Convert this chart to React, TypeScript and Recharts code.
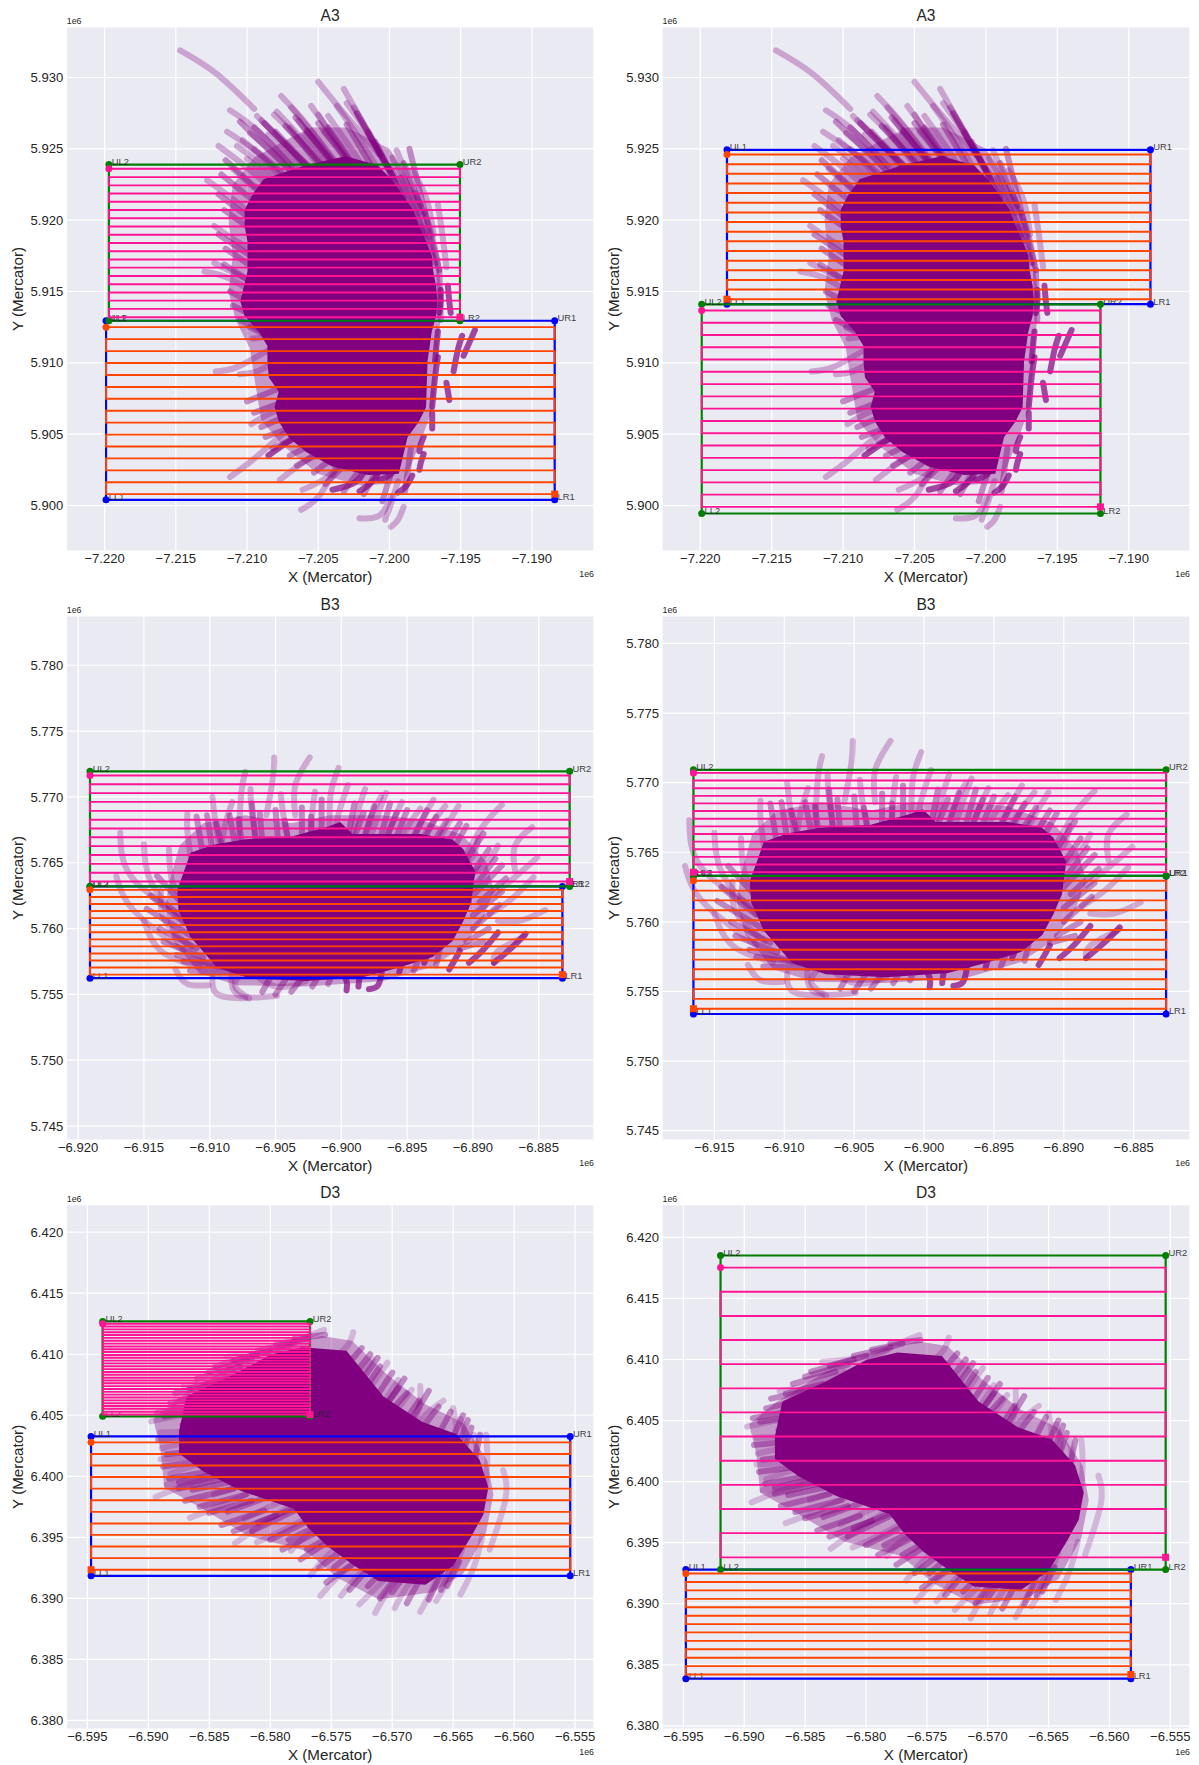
import React from 'react';
import { ScatterChart, Scatter, XAxis, YAxis, CartesianGrid } from 'recharts';

type Track = number[];
const FONT = '"Liberation Sans", Arial, sans-serif';
const PURPLE = '#800080';
const INK = '#262626';

const a3Ticks = { x: [-7220, -7215, -7210, -7205, -7200, -7195, -7190], y: [5900, 5905, 5910, 5915, 5920, 5925, 5930] };
const b3LeftXTicks = [-6920, -6915, -6910, -6905, -6900, -6895, -6890, -6885];
const b3RightXTicks = [-6915, -6910, -6905, -6900, -6895, -6890, -6885];
const b3YTicks = [5745, 5750, 5755, 5760, 5765, 5770, 5775, 5780];
const d3XTicks = [-6595, -6590, -6585, -6580, -6575, -6570, -6565, -6560, -6555];
const d3YTicks = [6380, 6385, 6390, 6395, 6400, 6405, 6410, 6415, 6420];

const a3Blob: Track = [-7205.8,5923.8,-7208.8,5922.8,-7209.6,5921.7,-7210.1,5920.7,-7210.1,5919.6,-7209.9,5918.5,-7209.9,5916.4,-7210.4,5914.3,-7210.1,5913.3,-7209.1,5912.2,-7208.5,5911.2,-7208.5,5910.1,-7208.4,5909.0,-7207.7,5908.0,-7208.0,5906.9,-7207.7,5905.9,-7207.0,5904.8,-7205.8,5903.8,-7204.0,5902.8,-7201.5,5902.2,-7199.4,5902.3,-7198.8,5904.8,-7198.0,5905.9,-7197.5,5906.9,-7197.4,5910.1,-7197.1,5912.2,-7196.8,5913.3,-7196.7,5914.3,-7196.8,5915.4,-7197.0,5916.4,-7197.1,5917.5,-7197.5,5918.5,-7198.0,5919.6,-7198.4,5920.7,-7199.1,5921.7,-7199.9,5922.8,-7200.9,5923.8,-7203.1,5924.4,-7205.8,5923.8];
const a3Halo: Track = [-7207.5,5925.5,-7209.5,5924.4,-7211,5922.5,-7211.3,5920,-7211,5917.5,-7211.3,5915,-7210.8,5913,-7209.8,5911,-7209.5,5909,-7209,5906,-7207.5,5904.2,-7205,5902.2,-7202,5901.4,-7199,5901.6,-7197.8,5904.5,-7196.9,5907,-7196.6,5911,-7196.3,5914.5,-7196.6,5917,-7197.2,5920,-7198.5,5922.5,-7200,5925,-7203,5926.5,-7205.5,5926.5,-7207.5,5925.5];
const a3Light: Track[] = [
  [-7214.7,5931.9,-7212.2,5930.3,-7209.5,5927.8],[-7205.0,5929.7,-7203.2,5927.5,-7200.7,5924.6],[-7203.2,5929.2,-7201.8,5926.7,-7200.7,5924.6],
  [-7207.6,5928.7,-7205.8,5926.7,-7203.7,5923.8],[-7211.2,5927.7,-7209.3,5926.3,-7206.9,5923.8],[-7211.4,5926.2,-7209.1,5924.6,-7206.4,5922.2],
  [-7212.0,5925.2,-7209.9,5923.6,-7207.7,5921.7],[-7209.3,5927.3,-7206.9,5924.9,-7204.2,5922.5],[-7208.1,5927.4,-7206.1,5925.4,-7204.0,5923.0],
  [-7206.4,5927.0,-7204.8,5924.9,-7202.6,5922.5],[-7205.0,5927.4,-7203.4,5924.9,-7201.5,5922.5],[-7203.7,5928.0,-7202.1,5925.7,-7200.5,5923.0],
  [-7209.8,5926.1,-7207.7,5924.3,-7205.8,5921.9],[-7210.7,5925.2,-7208.5,5923.5,-7206.6,5921.6],[-7199.5,5924.9,-7198.4,5922.2,-7197.2,5918.8],
  [-7200.1,5923.8,-7198.8,5921.7,-7197.4,5918.5],[-7196.6,5921.1,-7196.3,5919.1,-7196.0,5916.7],[-7198.2,5921.9,-7197.2,5919.6,-7196.6,5916.9],
  [-7212.2,5909.4,-7210.7,5909.7,-7208.5,5910.9],[-7211.2,5902.0,-7209.6,5903.2,-7207.4,5905.1],[-7209.7,5905.7,-7208.5,5906.4,-7207.2,5906.9],
  [-7209.6,5911.7,-7208.8,5911.8,-7208.0,5912.0],[-7210.5,5909.2,-7209.3,5909.4,-7208.0,5910.1],[-7213.0,5916.4,-7211.2,5915.9,-7209.1,5914.6],
  [-7212.3,5917.0,-7210.1,5915.9,-7208.0,5914.9],[-7212.8,5922.8,-7210.9,5921.4,-7209.1,5919.9],[-7212.3,5919.6,-7210.7,5918.5,-7208.5,5917.2],
  [-7206.2,5899.7,-7205.0,5900.6,-7203.7,5902.7],[-7206.1,5901.1,-7204.5,5901.9,-7203.1,5903.2],[-7207.7,5901.8,-7206.1,5903.0,-7204.5,5904.0],
  [-7202.1,5899.1,-7200.7,5899.3,-7199.9,5900.6],[-7199.9,5898.5,-7199.4,5899.0,-7199.0,5899.9],[-7200.3,5899.0,-7199.9,5900.1,-7199.4,5901.7],
  [-7209.0,5927.0,-7207.0,5925.0,-7204.5,5922.0],[-7207.9,5927.6,-7205.8,5925.3,-7203.3,5922.3],[-7206.9,5927.9,-7204.9,5925.5,-7202.6,5922.6],
  [-7205.5,5928.0,-7203.9,5925.8,-7201.9,5922.9],[-7204.3,5927.3,-7202.9,5925.3,-7201.0,5922.5],[-7203.0,5928.2,-7201.4,5925.9,-7199.6,5922.8],
  [-7202.5,5927.9,-7200.8,5925.0,-7199.0,5921.6],[-7208.5,5926.0,-7206.6,5924.2,-7204.5,5921.8],[-7207.0,5926.5,-7205.4,5924.4,-7203.4,5921.9],
  [-7210.3,5925.6,-7208.5,5924.0,-7206.2,5921.5],[-7209.5,5925.0,-7207.4,5923.2,-7205.6,5921.2],[-7210.0,5924.3,-7208.0,5922.5,-7206.0,5920.8],
  [-7211.0,5923.6,-7209.2,5922.0,-7207.0,5920.0],[-7205.9,5926.0,-7204.2,5924.0,-7202.2,5921.8],[-7204.6,5926.2,-7203.0,5924.2,-7201.2,5921.6],
  [-7199.8,5924.4,-7198.8,5922.6,-7197.9,5920.5],[-7198.4,5923.5,-7197.4,5921.5,-7196.9,5919.0],
  [-7210.5,5926.9,-7206,5922.5],[-7209.5,5926.5,-7205.5,5922.5],[-7208.8,5926.8,-7205,5923],[-7208,5926.2,-7204.5,5922.5],[-7207.3,5926.6,-7203.5,5922.5],[-7206.6,5927.2,-7203,5923],[-7205.8,5926.3,-7202.8,5922.5],[-7205,5926.8,-7202,5923],[-7204.3,5926.5,-7201.5,5922.5],[-7203,5926.7,-7200.8,5923],[-7202.3,5927.5,-7200,5923.5],[-7201.5,5926.2,-7199.8,5923],[-7201,5925.5,-7199,5921.5],
  [-7211.5,5924.2,-7208,5921],[-7211.8,5923.2,-7208.5,5920.5],[-7212,5921.8,-7209,5919.5],[-7211.6,5920.7,-7208.5,5918.5],[-7212,5919,-7209,5917],[-7211.5,5918,-7209,5916.3],[-7211.6,5916.9,-7209,5915.2],[-7211.2,5915,-7208.5,5913.5],[-7211,5914,-7208.5,5912.8],[-7210.5,5913,-7208,5911.8],[-7209.8,5912.5,-7207.8,5911.5],
  [-7210,5907.3,-7207,5908.5],[-7209.5,5906.5,-7206.5,5907.6],[-7209,5905.5,-7206,5906.8],[-7208.7,5904.8,-7205.5,5906],[-7208.2,5904,-7205,5905.5],[-7207,5903.5,-7204,5905],[-7206.5,5902.8,-7203.5,5904.5],[-7205.3,5902.3,-7202.5,5904.5],[-7204.5,5901.5,-7202,5904],[-7203.2,5901,-7201,5904],[-7201.8,5900.8,-7200,5904],[-7200.5,5900.3,-7199.5,5903.5],[-7198.9,5901,-7198.5,5904],
  [-7198.6,5925,-7197.5,5920.5],[-7199,5924,-7197.8,5921],[-7199.2,5923,-7197.5,5919],[-7197.5,5920.5,-7196.5,5916.5],[-7197.8,5919.5,-7196.8,5917],[-7196.5,5916.5,-7196.4,5913],
];
const a3Dark: Track[] = [
  [-7196.4,5915.1,-7196.4,5914.3,-7196.5,5913.5],[-7195.9,5915.4,-7195.8,5914.3,-7195.7,5913.5],[-7194.0,5912.3,-7194.4,5911.4,-7194.8,5910.5],
  [-7194.9,5911.9,-7195.2,5910.9,-7195.5,5909.4],[-7196.0,5908.6,-7195.9,5908.0,-7195.8,5907.4],[-7197.0,5906.5,-7197.0,5906.0,-7197.0,5905.4],
  [-7196.6,5912.2,-7196.7,5911.2,-7196.8,5910.1],[-7196.6,5910.4,-7196.8,5909.0,-7197.0,5906.9],[-7197.6,5904.8,-7197.8,5904.3,-7197.9,5903.8],
  [-7197.6,5903.6,-7197.8,5903.0,-7197.9,5902.5],[-7204.0,5901.1,-7202.3,5901.7,-7201.5,5903.0],[-7202.1,5901.0,-7201.0,5901.9,-7200.5,5903.2],
  [-7199.4,5900.9,-7198.8,5901.4,-7198.4,5902.1],[-7208.5,5903.5,-7206.9,5904.6,-7205.3,5905.6],[-7200.7,5901.8,-7199.9,5902.2,-7199.4,5903.0],
];

const b3Blob: Track = [-6912.0,5764.0,-6911.4,5765.7,-6909.7,5766.3,-6907.3,5766.7,-6903.8,5766.9,-6900.9,5767.7,-6900.1,5768.0,-6899.2,5767.1,-6896.9,5767.1,-6894.0,5767.1,-6891.6,5766.7,-6890.8,5766.0,-6889.9,5764.3,-6890.2,5762.0,-6890.8,5760.6,-6891.6,5759.1,-6893.1,5757.9,-6895.7,5757.1,-6898.3,5756.4,-6902.7,5756.1,-6907.0,5756.3,-6909.4,5757.1,-6911.4,5759.4,-6912.3,5761.4,-6912.4,5762.9,-6912.0,5764.0];
const b3Halo: Track = [-6913.1,5763.4,-6912.3,5766.3,-6910.5,5768.0,-6907.3,5768.6,-6903.8,5768.0,-6900.9,5768.6,-6896.9,5768.6,-6894.0,5768.3,-6890.8,5767.1,-6889.0,5765.1,-6888.4,5762.9,-6889.3,5760.6,-6890.8,5758.6,-6893.1,5757.1,-6896.9,5756.0,-6902.7,5755.6,-6907.9,5755.7,-6910.8,5756.6,-6912.8,5759.1,-6913.4,5761.4,-6913.1,5763.4];
const b3Light: Track[] = [
  [-6905.1,5773.0,-6905.2,5771.4,-6905.7,5768.6],[-6902.4,5773.0,-6903.5,5770.9,-6903.5,5768.6],[-6900.2,5772.2,-6900.8,5770.3,-6900.9,5767.7],
  [-6907.3,5771.9,-6907.6,5770.3,-6907.8,5766.9],[-6899.5,5770.9,-6900.1,5769.1,-6900.5,5767.4],[-6908.3,5769.6,-6908.8,5768.0,-6909.1,5766.3],
  [-6911.7,5768.7,-6911.7,5767.4,-6911.4,5765.1],[-6897.0,5770.0,-6897.7,5768.6,-6898.3,5766.9],[-6895.4,5769.6,-6896.0,5768.3,-6896.6,5766.9],
  [-6894.0,5769.1,-6894.8,5768.0,-6895.4,5766.9],[-6892.1,5769.3,-6893.1,5768.0,-6894.0,5766.6],[-6887.8,5769.4,-6889.3,5767.7,-6890.8,5765.1],
  [-6885.5,5767.7,-6886.8,5766.3,-6886.8,5764.4],[-6885.1,5765.4,-6886.7,5764.0,-6888.4,5762.6],[-6885.4,5763.9,-6887.0,5762.3,-6888.7,5761.1],
  [-6884.5,5761.4,-6886.4,5760.6,-6888.1,5760.6],[-6886.1,5759.4,-6888.1,5758.3,-6888.4,5757.4],[-6888.1,5766.3,-6889.0,5764.9,-6890.5,5764.0],
  [-6889.6,5766.9,-6889.9,5765.7,-6890.5,5764.9],[-6916.8,5767.3,-6916.0,5764.0,-6912.3,5761.1],[-6915.0,5766.4,-6914.4,5763.4,-6912.0,5760.6],
  [-6917.1,5764.0,-6915.8,5761.4,-6912.0,5758.3],[-6913.1,5766.0,-6912.8,5763.4,-6911.7,5762.3],[-6913.7,5762.9,-6913.4,5760.6,-6911.4,5758.6],
  [-6915.0,5760.6,-6913.7,5758.3,-6910.8,5757.1],[-6912.6,5756.9,-6911.7,5755.8,-6910.1,5755.7],[-6904.9,5754.9,-6907.9,5755.0,-6908.3,5757.1],
  [-6909.8,5756.3,-6909.4,5755.0,-6907.3,5754.7],[-6907.0,5754.7,-6908.1,5755.7,-6907.3,5756.9],[-6902.7,5756.0,-6905.0,5755.6,-6907.0,5756.9],
  [-6909.8,5770.0,-6909.6,5768.3,-6909.2,5765.8],[-6906.9,5770.6,-6906.8,5768.8,-6906.4,5766.2],[-6904.6,5770.2,-6904.4,5768.6,-6904.0,5766.4],
  [-6898.2,5770.6,-6898.7,5769.0,-6899.2,5766.8],[-6896.6,5770.3,-6897.2,5768.7,-6897.8,5766.8],[-6893.0,5769.8,-6893.8,5768.3,-6894.6,5766.6],
  [-6891.1,5769.3,-6892.0,5767.8,-6893.0,5766.0],[-6902.0,5770.4,-6902.2,5768.9,-6902.3,5767.0],
  [-6911,5768.5,-6910.5,5765.5],[-6910.2,5768.6,-6909.8,5766],[-6909.5,5768,-6909,5766],[-6908.5,5768.6,-6908,5766],[-6907.8,5768.3,-6907.5,5766],[-6906.8,5769.5,-6906.5,5766.5],[-6906.2,5768.8,-6906,5766.5],[-6905,5769,-6904.8,5766.5],[-6904.3,5768.2,-6904,5766.5],[-6903,5769.2,-6903,5767],[-6902.3,5768.5,-6902.3,5767],[-6901.5,5769.8,-6901.5,5767.5],[-6899,5769.5,-6899.5,5767],[-6898.3,5768.8,-6899,5767],[-6897.5,5769.3,-6898.2,5767],[-6896.3,5769.5,-6897,5767],[-6895.8,5768.8,-6896.5,5767],[-6895,5769,-6895.8,5767],[-6893.5,5769,-6894.5,5767],[-6892.8,5768.5,-6893.7,5766.8],[-6892,5768.2,-6893,5766.5],[-6891,5768,-6892.2,5766],[-6890.5,5767.8,-6891.8,5765.5],
  [-6889.2,5767.2,-6891,5764.5],[-6888.8,5766,-6890.5,5763.5],[-6888.3,5765.3,-6890,5763],[-6887.8,5764.8,-6890,5762.5],[-6887.5,5763.8,-6889.5,5762],[-6887.8,5762.8,-6890,5761],[-6888,5761.8,-6890,5760],[-6888.8,5760,-6890.5,5759],[-6889.2,5759,-6891,5758.5],
  [-6914,5764,-6912,5761.8],[-6914.5,5762.5,-6912,5760.5],[-6914.8,5761.5,-6911.5,5759.5],[-6913.8,5760,-6911,5758.5],[-6913.5,5759,-6910.5,5757.8],[-6912.5,5758,-6909.5,5757.2],[-6912,5757.5,-6908.5,5757],[-6911.5,5756.8,-6908,5756.7],
  [-6906,5755.2,-6905,5757],[-6905,5755,-6904,5756.5],[-6903.8,5755.2,-6902.8,5756.5],[-6902.2,5755.6,-6901.5,5756.8],[-6901,5755.8,-6900.5,5757],[-6894.5,5756.8,-6894,5758],[-6892.8,5757.2,-6892.5,5758.5],
];
const b3Dark: Track[] = [
  [-6899.6,5755.3,-6899.6,5756.0,-6900.1,5756.9],[-6898.7,5755.6,-6898.6,5756.3,-6898.3,5756.9],[-6897.9,5755.4,-6897.2,5755.7,-6896.9,5756.9],
  [-6895.6,5756.7,-6895.4,5757.4,-6895.1,5758.3],[-6893.7,5757.4,-6893.5,5757.9,-6893.1,5758.6],[-6891.8,5756.9,-6891.5,5757.4,-6891.0,5758.3],
  [-6890.3,5757.4,-6889.3,5758.3,-6888.1,5759.7],[-6888.4,5757.4,-6887.0,5758.6,-6886.0,5759.6],
];

const d3Blob: Track = [-6586.8,6406.5,-6583.3,6408.1,-6579.9,6409.9,-6577.4,6410.5,-6573.8,6410.2,-6570.8,6406.5,-6567.6,6404.4,-6564.8,6403.4,-6562.9,6401.3,-6562.2,6399.1,-6562.6,6396.9,-6563.6,6395.1,-6565.1,6392.7,-6567.3,6391.2,-6571.1,6391.5,-6573,6392.7,-6575.2,6394.3,-6576.8,6395.8,-6578,6397.4,-6582.4,6398.9,-6585.5,6400.5,-6587.4,6401.9,-6587.4,6403.7,-6586.8,6406.5];
const d3Halo: Track = [-6589.6,6404.7,-6587.4,6406.5,-6583.3,6409.0,-6579.6,6410.5,-6575.8,6411.5,-6573.3,6411.1,-6570.5,6408.4,-6567.3,6405.9,-6564.2,6404.4,-6562.2,6401.3,-6561.7,6398.5,-6562.3,6395.4,-6564.2,6392.0,-6566.7,6390.5,-6571.1,6389.9,-6574.5,6391.7,-6577.1,6393.9,-6581.8,6395.1,-6585.5,6397.3,-6588.7,6399.1,-6589.0,6402.2,-6589.6,6404.7];
const d3Light: Track[] = [
  [-6575.6,6412.0,-6577.7,6411.1,-6580.2,6409.6],[-6573.2,6411.8,-6573.6,6410.8,-6574.5,6409.9],[-6583.6,6409.8,-6580.8,6410.1,-6578.3,6410.8],
  [-6587.1,6407.4,-6584.6,6407.9,-6581.8,6409.0],[-6589.8,6404.5,-6587.4,6405.0,-6584.6,6405.6],[-6589.0,6403.6,-6586.5,6403.7,-6583.3,6404.0],
  [-6588.9,6402.3,-6586.5,6402.8,-6583.3,6403.1],[-6589.0,6401.4,-6586.5,6401.6,-6583.3,6402.5],[-6588.2,6400.2,-6585.8,6401.0,-6582.7,6401.6],
  [-6589.4,6398.3,-6586.5,6399.4,-6582.7,6400.3],[-6588.5,6399.3,-6585.8,6399.7,-6582.7,6400.6],[-6586.6,6396.6,-6584.0,6397.6,-6580.8,6399.1],
  [-6584.6,6398.5,-6581.8,6399.4,-6579.3,6400.3],[-6582.9,6394.5,-6580.8,6396.0,-6578.3,6397.6],[-6582.1,6396.5,-6579.9,6397.6,-6577.7,6398.5],
  [-6581.1,6394.6,-6579.3,6395.4,-6576.4,6396.9],[-6578.3,6393.9,-6577.1,6395.1,-6574.9,6396.3],[-6576.7,6391.9,-6575.2,6393.6,-6573.3,6395.1],
  [-6575.9,6390.2,-6574.2,6392.0,-6572.0,6393.6],[-6574.2,6390.2,-6572.7,6392.0,-6571.1,6393.2],[-6572.7,6389.5,-6570.8,6391.4,-6569.5,6392.6],
  [-6571.4,6388.8,-6570.2,6390.8,-6568.6,6392.6],[-6569.8,6389.2,-6568.9,6390.8,-6567.6,6392.3],[-6567.7,6388.9,-6566.7,6390.8,-6565.8,6392.9],
  [-6566.4,6389.8,-6565.1,6392.0,-6564.2,6394.2],[-6564.4,6390.3,-6563.3,6392.6,-6562.6,6395.1],[-6562.0,6394.0,-6560.7,6398.2,-6560.9,6400.5],
  [-6562.3,6403.4,-6562.2,6401.3,-6562.4,6398.8],[-6563.3,6403.4,-6563.1,6402.2,-6563.3,6400.3],[-6564.4,6404.7,-6564.0,6403.1,-6564.5,6401.3],
  [-6565.0,6405.6,-6564.8,6403.7,-6565.4,6402.5],[-6565.8,6406.2,-6567.3,6405.0,-6568.3,6403.7],[-6567.7,6407.4,-6567.8,6405.6,-6568.6,6403.7],
  [-6568.4,6407.1,-6569.5,6405.6,-6570.5,6405.0],[-6569.5,6407.9,-6570.6,6406.2,-6571.4,6405.3],[-6570.4,6409.3,-6571.7,6407.4,-6572.4,6406.2],
  [-6571.6,6409.6,-6572.7,6408.1,-6573.3,6407.1],
  [-6589.3,6405.2,-6585,6406],[-6588.7,6404.9,-6585,6405.5],[-6588.2,6406,-6584,6407],[-6587.8,6406.8,-6584,6407.6],[-6586,6408,-6582.5,6409],[-6585,6408.6,-6581.5,6409.6],[-6583,6409.5,-6580,6410.3],[-6581,6410.3,-6578,6411],[-6579.5,6410.8,-6577,6411.3],[-6578,6411.3,-6575.5,6411.6],
  [-6589.2,6403.0,-6586,6403.3],[-6588.5,6401.8,-6585,6402.2],[-6588.8,6400.8,-6585,6401.3],[-6588.3,6399.8,-6584.5,6400.5],[-6587.5,6399,-6584,6399.8],[-6587,6398,-6583,6399],[-6585.8,6397.5,-6582,6398.5],[-6585,6397,-6581.5,6398],[-6584,6396,-6580.5,6397.2],[-6583,6395.5,-6579.5,6396.8],
  [-6581.5,6395.5,-6578,6397.2],[-6580,6394.8,-6577,6396.3],[-6579,6394,-6576,6395.5],[-6577.5,6393.2,-6575,6394.8],[-6576,6392.5,-6574,6394],[-6575.4,6391.3,-6573,6393],[-6573.5,6390.7,-6571.5,6393],[-6571,6390,-6569.5,6392],[-6568.8,6389.6,-6567.5,6392],[-6567,6389.9,-6566,6392],[-6565.5,6391,-6564.5,6393],
  [-6572.5,6410.5,-6573.8,6409],[-6571.8,6410,-6573,6408.5],[-6571,6409,-6572,6407.5],[-6570,6408.5,-6571.3,6406.5],[-6569,6408,-6570.5,6405.8],[-6568.8,6406.8,-6570,6405.5],[-6567,6407,-6568.5,6404.5],[-6566.2,6405.7,-6567.5,6404],[-6565.2,6405.3,-6566,6403.8],[-6564.2,6405,-6565,6403.2],[-6563.5,6404,-6564,6402.5],[-6562.8,6403.4,-6563.2,6401.5],
  [-6587.0,6404.9,-6584.5,6405.4],[-6587.2,6404.2,-6584.5,6404.6],[-6586.6,6407.2,-6583.5,6408],[-6584.5,6409.0,-6581,6410],[-6587.5,6399.5,-6584.5,6400.2],[-6586.4,6398.9,-6583,6399.6],[-6583.5,6397.1,-6580.5,6398.2],[-6581,6396.2,-6578,6397.4],[-6578.5,6394.8,-6576,6396],[-6577,6394,-6574.8,6395.2],[-6574.8,6392.5,-6573,6394],[-6570,6390.5,-6568.5,6392.5],[-6572,6391,-6570.5,6392.5],[-6566,6390.7,-6565,6393],[-6569.5,6407.2,-6570.8,6405.5],[-6567.8,6406.2,-6569,6404.5],[-6571.2,6409.7,-6572.4,6408],[-6563.8,6404.6,-6564.6,6402.5],
];
const d3Dark: Track[] = [];

// [left, right, top, bottom] of each survey rectangle
const rectA1L = [-7219.9, -7188.4, 5912.95, 5900.4];
const rectA2L = [-7219.7, -7195.05, 5923.9, 5912.95];
const rectA1R = [-7218.13, -7188.48, 5924.93, 5914.11];
const rectA2R = [-7219.9, -7191.98, 5914.1, 5899.44];
const rectB1L = [-6919.1, -6883.2, 5763.2, 5756.23];
const rectB2L = [-6919.1, -6882.65, 5771.94, 5763.2];
const rectB1R = [-6916.5, -6882.68, 5763.3, 5753.38];
const rectB2R = [-6916.5, -6882.68, 5770.92, 5763.3];
const rectD1L = [-6594.7, -6555.4, 6403.27, 6391.85];
const rectD2L = [-6593.75, -6576.74, 6412.69, 6404.91];
const rectD1R = [-6594.8, -6558.24, 6392.8, 6383.86];
const rectD2R = [-6591.95, -6555.38, 6418.52, 6392.8];

const linesA1L = [5912.5,5911.66,5910.82,5909.99,5909.15,5908.31,5907.48,5906.64,5905.81,5904.97,5904.13,5903.3,5902.46,5901.63,5900.8];
const linesA2L = [5923.6,5923.02,5922.44,5921.87,5921.29,5920.71,5920.13,5919.56,5918.98,5918.4,5917.82,5917.24,5916.67,5916.09,5915.51,5914.93,5914.36,5913.78,5913.2];
const linesA1R = [5924.6,5923.92,5923.25,5922.57,5921.9,5921.22,5920.54,5919.87,5919.19,5918.52,5917.84,5917.16,5916.49,5915.81,5915.14,5914.46];
const linesA2R = [5913.67,5912.81,5911.95,5911.09,5910.23,5909.37,5908.51,5907.65,5906.79,5905.92,5905.06,5904.2,5903.34,5902.48,5901.62,5900.76,5899.9];
const linesB1L = [5762.94,5762.4,5761.87,5761.33,5760.79,5760.26,5759.72,5759.18,5758.65,5758.11,5757.57,5757.04,5756.5];
const linesB2L = [5771.63,5770.96,5770.29,5769.62,5768.94,5768.27,5767.6,5766.93,5766.26,5765.59,5764.91,5764.24,5763.57];
const linesB1R = [5762.95,5762.24,5761.54,5760.83,5760.12,5759.42,5758.71,5758.0,5757.29,5756.59,5755.88,5755.17,5754.47,5753.76];
const linesB2R = [5770.7,5770.15,5769.6,5769.05,5768.51,5767.96,5767.41,5766.86,5766.31,5765.76,5765.21,5764.67,5764.12,5763.57];
const linesD1L = [6402.78,6401.83,6400.88,6399.94,6398.99,6398.04,6397.09,6396.14,6395.2,6394.25,6393.3,6392.35];
const linesD2L = [6412.5,6412.27,6412.04,6411.8,6411.57,6411.34,6411.11,6410.87,6410.64,6410.41,6410.18,6409.94,6409.71,6409.48,6409.25,6409.01,6408.78,6408.55,6408.32,6408.08,6407.85,6407.62,6407.39,6407.15,6406.92,6406.69,6406.46,6406.22,6405.99,6405.76,6405.53,6405.29,6405.06];
const linesD1R = [6392.47,6391.78,6391.09,6390.4,6389.71,6389.02,6388.33,6387.65,6386.96,6386.27,6385.58,6384.89,6384.2];
const linesD2R = [6417.53,6415.55,6413.57,6411.6,6409.62,6407.64,6405.67,6403.69,6401.71,6399.73,6397.76,6395.78,6393.8];

const toPoints = (t: Track) => {
  const out: { x: number; y: number }[] = [];
  for (let i = 0; i < t.length; i += 2) out.push({ x: t[i], y: t[i + 1] });
  return out;
};
const fmt = (v: number) => (v / 1000).toFixed(3).replace('-', '\u2212');
const NoDot = () => null;

const boxPath = (r: number[]) => [
  { x: r[0], y: r[2] }, { x: r[1], y: r[2] }, { x: r[1], y: r[3] }, { x: r[0], y: r[3] }, { x: r[0], y: r[2] },
];
const corners = (r: number[], n: number) => [
  { x: r[0], y: r[2], name: `UL${n}` }, { x: r[1], y: r[2], name: `UR${n}` },
  { x: r[0], y: r[3], name: `LL${n}` }, { x: r[1], y: r[3], name: `LR${n}` },
];
// boustrophedon flight path across the rectangle
const sweep = (r: number[], ys: number[]) => {
  const pts: { x: number; y: number }[] = [];
  ys.forEach((y, i) => {
    const a = i % 2 === 0 ? r[0] : r[1];
    const b = i % 2 === 0 ? r[1] : r[0];
    pts.push({ x: a, y }, { x: b, y });
  });
  return pts;
};

const CornerDot = (color: string) => (p: any) => (
  <g>
    <circle cx={p.cx} cy={p.cy} r={3.5} fill={color} />
    <text x={p.cx + 2.8} y={p.cy + 0.4} fontSize={9.4} fontFamily={FONT} fill={INK} fillOpacity={0.9}>{p.payload.name}</text>
  </g>
);
const StartDot = (color: string) => (p: any) => <circle cx={p.cx} cy={p.cy} r={3.5} fill={color} />;
const EndSquare = (color: string) => (p: any) => <rect x={p.cx - 3.5} y={p.cy - 3.5} width={7} height={7} fill={color} />;

function seriesForRect(key: string, r: number[], n: number, color: string) {
  return [
    <Scatter key={`${key}-box`} data={boxPath(r)} shape={NoDot} line={{ stroke: color, strokeWidth: 2.2 }} isAnimationActive={false} />,
    <Scatter key={`${key}-c`} data={corners(r, n)} shape={CornerDot(color)} isAnimationActive={false} />,
  ];
}
function seriesForSweep(key: string, r: number[], ys: number[], color: string) {
  const pts = sweep(r, ys);
  return [
    <Scatter key={`${key}-path`} data={pts} shape={NoDot} line={{ stroke: color, strokeWidth: 1.9 }} isAnimationActive={false} />,
    <Scatter key={`${key}-s`} data={[pts[0]]} shape={StartDot(color)} isAnimationActive={false} />,
    <Scatter key={`${key}-e`} data={[pts[pts.length - 1]]} shape={EndSquare(color)} isAnimationActive={false} />,
  ];
}

function Panel(props: any) {
  const { title, left, top, width, height, plotL, plotR, plotT, plotB, xDomain, yDomain, xTicks, yTicks, cloud, rect1, rect2, lines1, lines2, lightOpacity, shortOpacity, haloOpacity } = props;
  const midX = (plotL + plotR) / 2;
  const midY = (plotT + plotB) / 2;
  const tickStyle = { fontSize: 13.1, fill: INK, fontFamily: FONT };
  return (
    <div style={{ position: 'absolute', left, top, width, height }}>
      <ScatterChart width={width} height={height} margin={{ top: plotT, left: plotL - 1, right: width - plotR, bottom: height - plotB - 1 }}>
        <CartesianGrid fill="#EAEAF2" stroke="#FFFFFF" strokeWidth={1.2} fillOpacity={1} />
        <XAxis type="number" dataKey="x" domain={xDomain} ticks={xTicks} interval={0} allowDataOverflow height={1} axisLine={false} tickLine={false} tickSize={0} tickMargin={3} tickFormatter={fmt} tick={tickStyle} />
        <YAxis type="number" dataKey="y" domain={yDomain} ticks={yTicks} interval={0} allowDataOverflow width={1} axisLine={false} tickLine={false} tickSize={0} tickMargin={3} tickFormatter={fmt} tick={tickStyle} />
        <Scatter data={toPoints(cloud.halo)} shape={NoDot} line={{ fill: PURPLE, fillOpacity: haloOpacity, stroke: 'none' }} isAnimationActive={false} />
        {cloud.light.map((t: Track, i: number) => (
          <Scatter key={`l${i}`} data={toPoints(t)} shape={NoDot} lineJointType="natural" line={{ stroke: PURPLE, strokeWidth: 6, strokeOpacity: t.length === 4 ? shortOpacity : lightOpacity, strokeLinecap: 'round', fill: 'none' }} isAnimationActive={false} />
        ))}
        {cloud.dark.map((t: Track, i: number) => (
          <Scatter key={`d${i}`} data={toPoints(t)} shape={NoDot} lineJointType="natural" line={{ stroke: PURPLE, strokeWidth: 6, strokeOpacity: 0.7, strokeLinecap: 'round', fill: 'none' }} isAnimationActive={false} />
        ))}
        <Scatter data={toPoints(cloud.blob)} shape={NoDot} line={{ fill: PURPLE, stroke: PURPLE, strokeWidth: 2 }} isAnimationActive={false} />
        {seriesForRect('r1', rect1, 1, '#0000FF')}
        {seriesForRect('r2', rect2, 2, '#008000')}
        {seriesForSweep('s1', rect1, lines1, '#FF4500')}
        {seriesForSweep('s2', rect2, lines2, '#FF1493')}
        <text x={midX} y={plotT - 6.5} textAnchor="middle" fontSize={15.6} fontFamily={FONT} fill={INK}>{title}</text>
        <text x={plotL + 0.5} y={plotT - 2.8} fontSize={8.8} fontFamily={FONT} fill={INK}>1e6</text>
        <text x={plotR} y={plotB + 26.2} textAnchor="end" fontSize={8.8} fontFamily={FONT} fill={INK}>1e6</text>
        <text x={midX} y={plotB + 30.5} textAnchor="middle" fontSize={15.2} fontFamily={FONT} fill={INK}>X (Mercator)</text>
        <text transform={`translate(${plotL - 43.5} ${midY}) rotate(-90)`} textAnchor="middle" fontSize={15.2} fontFamily={FONT} fill={INK}>Y (Mercator)</text>
      </ScatterChart>
    </div>
  );
}

const a3Cloud = { blob: a3Blob, halo: a3Halo, light: a3Light, dark: a3Dark };
const b3Cloud = { blob: b3Blob, halo: b3Halo, light: b3Light, dark: b3Dark };
const d3Cloud = { blob: d3Blob, halo: d3Halo, light: d3Light, dark: d3Dark };

export default function App() {
  const colL = { left: 0, width: 600, plotL: 66.3, plotR: 594 };
  const colR = { left: 600, width: 599, plotL: 62, plotR: 590 };
  const row1 = { top: 0, height: 590, plotT: 27, plotB: 551 };
  const row2 = { top: 590, height: 590, plotT: 26, plotB: 550 };
  const row3 = { top: 1178, height: 587, plotT: 26.7, plotB: 551 };
  const shared = { shortOpacity: 0.42 };
  return (
    <div style={{ position: 'absolute', left: 0, top: 0, width: 1199, height: 1765, overflow: 'hidden', background: '#fff' }}>
      <Panel title="A3" {...shared} {...colL} {...row1} xDomain={[-7222.69, -7185.64]} yDomain={[5896.81, 5933.54]} xTicks={a3Ticks.x} yTicks={a3Ticks.y} cloud={a3Cloud} rect1={rectA1L} rect2={rectA2L} lines1={linesA1L} lines2={linesA2L} lightOpacity={0.3} haloOpacity={0.35} />
      <Panel title="A3" {...shared} {...colR} {...row1} xDomain={[-7222.68, -7185.71]} yDomain={[5896.81, 5933.54]} xTicks={a3Ticks.x} yTicks={a3Ticks.y} cloud={a3Cloud} rect1={rectA1R} rect2={rectA2R} lines1={linesA1R} lines2={linesA2R} lightOpacity={0.3} haloOpacity={0.35} />
      <Panel title="B3" {...shared} {...colL} {...row2} xDomain={[-6920.9, -6880.8]} yDomain={[5743.94, 5783.74]} xTicks={b3LeftXTicks} yTicks={b3YTicks} cloud={b3Cloud} rect1={rectB1L} rect2={rectB2L} lines1={linesB1L} lines2={linesB2L} lightOpacity={0.28} haloOpacity={0.35} />
      <Panel title="B3" {...shared} {...colR} {...row2} xDomain={[-6918.75, -6880.97]} yDomain={[5744.33, 5781.97]} xTicks={b3RightXTicks} yTicks={b3YTicks} cloud={b3Cloud} rect1={rectB1R} rect2={rectB2R} lines1={linesB1R} lines2={linesB2R} lightOpacity={0.28} haloOpacity={0.35} />
      <Panel title="D3" {...shared} {...colL} {...row3} xDomain={[-6596.73, -6553.45]} yDomain={[6379.3, 6422.25]} xTicks={d3XTicks} yTicks={d3YTicks} cloud={d3Cloud} rect1={rectD1L} rect2={rectD2L} lines1={linesD1L} lines2={linesD2L} lightOpacity={0.22} haloOpacity={0.35} />
      <Panel title="D3" {...shared} {...colR} {...row3} xDomain={[-6596.76, -6553.38]} yDomain={[6379.74, 6422.68]} xTicks={d3XTicks} yTicks={d3YTicks} cloud={d3Cloud} rect1={rectD1R} rect2={rectD2R} lines1={linesD1R} lines2={linesD2R} lightOpacity={0.22} haloOpacity={0.35} />
    </div>
  );
}
